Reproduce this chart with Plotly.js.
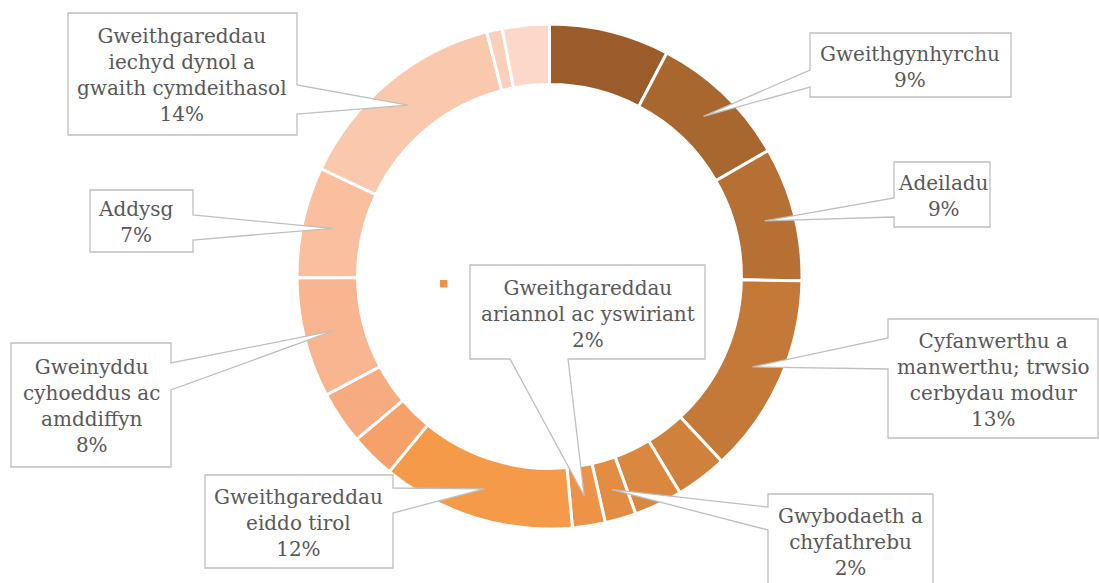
<!DOCTYPE html>
<html>
<head>
<meta charset="utf-8">
<script src="https://cdn.plot.ly/plotly-3.0.1.min.js"></script>
<style>html,body{margin:0;padding:0;background:#fff;}#chart{width:1099px;height:583px;}</style>
</head>
<body>
<div id="chart"></div>
<script>
// ---- data ----
const sectors = [
  "Amaethyddiaeth, mwyngloddio, ynni a dŵr",
  "Gweithgynhyrchu",
  "Adeiladu",
  "Cyfanwerthu a manwerthu; trwsio cerbydau modur",
  "Cludiant a storio",
  "Llety a gwasanaethau bwyd",
  "Gwybodaeth a chyfathrebu",
  "Gweithgareddau ariannol ac yswiriant",
  "Gweithgareddau eiddo tirol",
  "Gweithgareddau proffesiynol, gwyddonol a thechnegol",
  "Gweithgareddau gweinyddol a gwasanaethau cymorth",
  "Gweinyddu cyhoeddus ac amddiffyn",
  "Addysg",
  "Gweithgareddau iechyd dynol a gwaith cymdeithasol",
  "Celfyddydau, adloniant a hamdden",
  "Gweithgareddau gwasanaeth eraill"
];
const shares = [7.7, 9.0, 8.6, 12.8, 3.3, 3.1, 2.0, 2.1, 12.4, 2.9, 3.4, 7.7, 7.1, 14.0, 1.0, 3.0];
const sliceColors = [
  "#9B5B2A", "#A8672F", "#B77034", "#C57938", "#D0823C", "#DA873F", "#E38D44", "#ED9246",
  "#F59A48", "#F6A16A", "#F7AB80", "#F8B590", "#F9BF9F", "#F9C8AD", "#FAD0BA", "#FBD8C7"
];
// wrapped callout labels (index into sectors)
const calloutIdx = [13, 1, 2, 3, 6, 7, 8, 11, 12];
const calloutText = [
  "Gweithgareddau<br>iechyd dynol a<br>gwaith cymdeithasol",
  "Gweithgynhyrchu",
  "Adeiladu",
  "Cyfanwerthu a<br>manwerthu; trwsio<br>cerbydau modur",
  "Gwybodaeth a<br>chyfathrebu",
  "Gweithgareddau<br>ariannol ac yswiriant",
  "Gweithgareddau<br>eiddo tirol",
  "Gweinyddu<br>cyhoeddus ac<br>amddiffyn",
  "Addysg"
];

// ---- layout geometry (pixels) ----
const W = 1099, H = 583;
const cx = 549.5, cy = 276.5, R = 252.5, HOLE = 0.76;
const rMid = R * (1 + HOLE) / 2;
// box: [left, top, right, bottom], side of wedge, base span, text centre
const calloutBoxes = [
  {box: [68, 13, 297, 135], side: "right", base: [85, 114], t: [182, 75]},
  {box: [810, 33, 1011, 97], side: "left", base: [70, 87], t: [910, 67]},
  {box: [894, 162, 990, 227], side: "left", base: [198, 217], t: [943, 196]},
  {box: [888, 319, 1098, 438], side: "left", base: [338, 369], t: [993, 380]},
  {box: [768, 494, 933, 610], side: "left", base: [507, 530], t: [850, 542]},
  {box: [470, 265, 705, 359], side: "bottom", base: [510, 568], t: [588, 314]},
  {box: [205, 475, 393, 568], side: "right", base: [488, 513], t: [298, 523]},
  {box: [11, 343, 171, 467], side: "right", base: [363, 390], t: [92, 406]},
  {box: [90, 190, 193, 252], side: "right", base: [215, 240], t: [136, 222]}
];

const px = x => x / W;
const py = y => 1 - y / H;
const total = shares.reduce((a, b) => a + b, 0);
const cum = [];
shares.reduce((acc, v, i) => { cum[i] = acc; return acc + v; }, 0);
function anchor(i) {
  const ang = (cum[i] + shares[i] / 2) / total * 2 * Math.PI;
  return [cx + rMid * Math.sin(ang), cy - rMid * Math.cos(ang)];
}
function P(x, y) { return px(x).toFixed(5) + "," + py(y).toFixed(5); }
function calloutPath(c, a) {
  const [L, T, Rr, B] = c.box;
  const [b1, b2] = c.base;
  let pts;
  if (c.side === "left") {
    pts = [[L, T], [Rr, T], [Rr, B], [L, B], [L, b2], a, [L, b1]];
  } else if (c.side === "right") {
    pts = [[L, T], [Rr, T], [Rr, b1], a, [Rr, b2], [Rr, B], [L, B]];
  } else {
    pts = [[L, T], [Rr, T], [Rr, B], [b2, B], a, [b1, B], [L, B]];
  }
  return "M" + pts.map(p => P(p[0], p[1])).join("L") + "Z";
}

const shapes = [];
const annotations = [];
calloutIdx.forEach((idx, k) => {
  const c = calloutBoxes[k];
  const a = anchor(idx);
  shapes.push({
    type: "path", xref: "paper", yref: "paper", layer: "above",
    path: calloutPath(c, a),
    fillcolor: "#FFFFFF", line: {color: "#BFBFBF", width: 1.3}
  });
  const pct = Math.round(shares[idx] / total * 100);
  annotations.push({
    xref: "paper", yref: "paper", x: px(c.t[0]), y: py(c.t[1]),
    xanchor: "center", yanchor: "middle", align: "center", showarrow: false,
    text: calloutText[k] + "<br>" + pct + "%",
    font: {family: "DejaVu Serif", size: 20, color: "#595959"}
  });
});
// stray legend key of the finance label
shapes.push({
  type: "rect", xref: "paper", yref: "paper", layer: "above",
  x0: px(440), x1: px(447.5), y0: py(280), y1: py(287.5),
  fillcolor: sliceColors[7], line: {width: 0}
});

const trace = {
  type: "pie",
  labels: sectors,
  values: shares,
  hole: HOLE,
  sort: false,
  direction: "clockwise",
  rotation: 0,
  textinfo: "none",
  hoverinfo: "label+percent",
  marker: {colors: sliceColors, line: {color: "#FFFFFF", width: 3}},
  domain: {x: [px(cx - R), px(cx + R)], y: [py(cy + R), py(cy - R)]},
  showlegend: false
};

Plotly.newPlot("chart", [trace], {
  width: W, height: H,
  margin: {l: 0, r: 0, t: 0, b: 0},
  paper_bgcolor: "#FFFFFF",
  showlegend: false,
  shapes: shapes,
  annotations: annotations
}, {displayModeBar: false, staticPlot: true});
</script>
</body>
</html>
